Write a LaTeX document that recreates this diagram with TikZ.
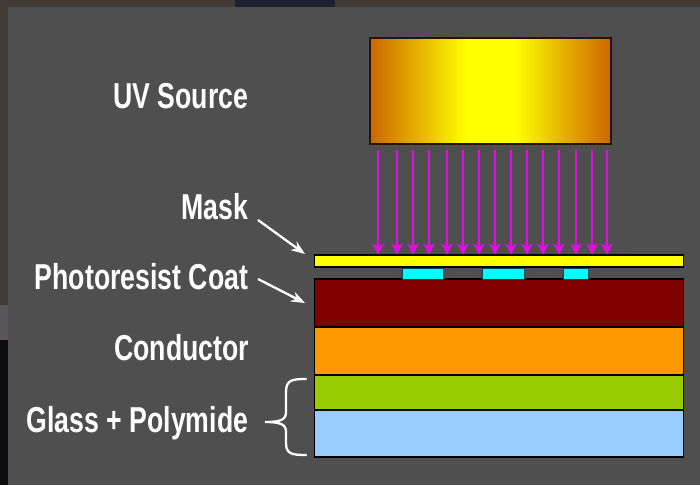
\documentclass[tikz,border=0pt]{standalone}
\usepackage{fontspec}
\setmainfont[FakeStretch=0.74]{Liberation Sans}
\usetikzlibrary{calc, positioning}
\usetikzlibrary{shapes, arrows, arrows.meta}
\definecolor{panelgray}{HTML}{4F4F4F}
\definecolor{edgebrown}{HTML}{403B37}
\definecolor{edgeblue}{HTML}{1C2130}
\definecolor{edgegray}{HTML}{5A5558}
\definecolor{edgeblack}{HTML}{0C0B0E}
\definecolor{uvedge}{HTML}{CC6600}
\definecolor{masklayer}{HTML}{FFFF00}
\definecolor{padcyan}{HTML}{00FFFF}
\definecolor{resistred}{HTML}{800000}
\definecolor{conductororange}{HTML}{FF9900}
\definecolor{glassgreen}{HTML}{99CC00}
\definecolor{polyblue}{HTML}{99CCFF}
\definecolor{raymagenta}{HTML}{E010DC}
\pgfdeclarehorizontalshading{uvglow}{100bp}{
    color(0bp)=(uvedge); color(25bp)=(uvedge); color(45bp)=(masklayer);
    color(55bp)=(masklayer); color(75bp)=(uvedge); color(100bp)=(uvedge)}
\tikzset{
    auto,node distance =0 cm and 0 cm,
    layer/.style={draw=black,line width=0.6pt,minimum width=7.4cm,inner sep=0pt,outer sep=0pt},
    pad/.style={draw=black!70!padcyan,line width=0.5pt,fill=padcyan,minimum height=0.22cm,inner sep=0pt,outer sep=0pt},
    label/.style={text=white,font=\bfseries\fontsize{20.5}{24}\selectfont,anchor=base east,inner sep=0pt},
    pointer/.style={draw=white,line width=1.3pt,-{Stealth[length=8pt,width=6pt]}},
    ray/.style={draw=raymagenta,line width=1.6pt,-{Stealth[length=6pt,width=6.5pt,inset=1pt]}},
}
\begin{document}
\begin{tikzpicture}[x=0.02cm,y=-0.02cm]
    \useasboundingbox (0,0) rectangle (700,485);
    \fill[edgebrown] (0,0) rectangle (700,485);
    \fill[edgeblue] (235,0) rectangle (335,7);
    \fill[edgegray] (0,305) rectangle (8,340);
    \fill[edgeblack] (0,340) rectangle (8,485);
    \fill[panelgray] (8,7) rectangle (700,485);
    % source
    \node(uvsource) [draw=black!80!uvedge,line width=0.8pt,shading=uvglow,minimum width=4.82cm,minimum height=2.12cm,inner sep=0pt] at (490.5,91) {};
    % stack
    \node(mask) [layer,fill=masklayer,minimum height=0.24cm] at (499,261) {};
    \node(resist) [layer,fill=resistred,minimum height=0.96cm] at (499,303) {};
    \node(conductor) [layer,fill=conductororange,minimum height=0.96cm,below=of resist] {};
    \node(glass) [layer,fill=glassgreen,minimum height=0.70cm,below=of conductor] {};
    \node(polymide) [layer,fill=polyblue,minimum height=0.94cm,below=of glass] {};
    \node(pad1) [pad,minimum width=0.82cm] at (422.5,273.5) {};
    \node(pad2) [pad,minimum width=0.84cm] at (503,273.5) {};
    \node(pad3) [pad,minimum width=0.50cm] at (575.5,273.5) {};
    % labels
    \node(uvlabel) [label] at (248.5,108) {UV Source};
    \node(masklabel) [label] at (248.5,219) {Mask};
    \node(resistlabel) [label] at (248.5,289) {Photoresist Coat};
    \node(conductorlabel) [label] at (249.5,360) {Conductor};
    \node(glasslabel) [label] at (248.5,432) {Glass + Polymide};
    % rays
    \foreach \x in {378,397,413,429,447,463,479,495,511,527,543,559,576,592,607}
        \draw[ray,shorten <=2.8pt,shorten >=0.3pt] (uvsource.south -| \x,0) -- (mask.north -| \x,0);
    % pointers
    \coordinate (masktail) at (258,220);
    \coordinate (maskhead) at (305,254);
    \coordinate (resisttail) at (258,279);
    \coordinate (resisthead) at (305,303);
    \draw[pointer] (masktail) -- (maskhead);
    \draw[pointer] (resisttail) -- (resisthead);
    % brace
    \coordinate (bracetop) at (306,379);
    \coordinate (bracetip) at (265,422);
    \coordinate (bracebottom) at (306,455);
    \draw[white,line width=1.3pt,line cap=round] (bracetop) .. controls (292,379) and (286,380) .. (286,392)
        -- (286,412) .. controls (286,419) and (282,422) .. (bracetip)
        .. controls (282,422) and (286,425) .. (286,432)
        -- (286,443) .. controls (286,454) and (292,455) .. (bracebottom);
\end{tikzpicture}
\end{document}
